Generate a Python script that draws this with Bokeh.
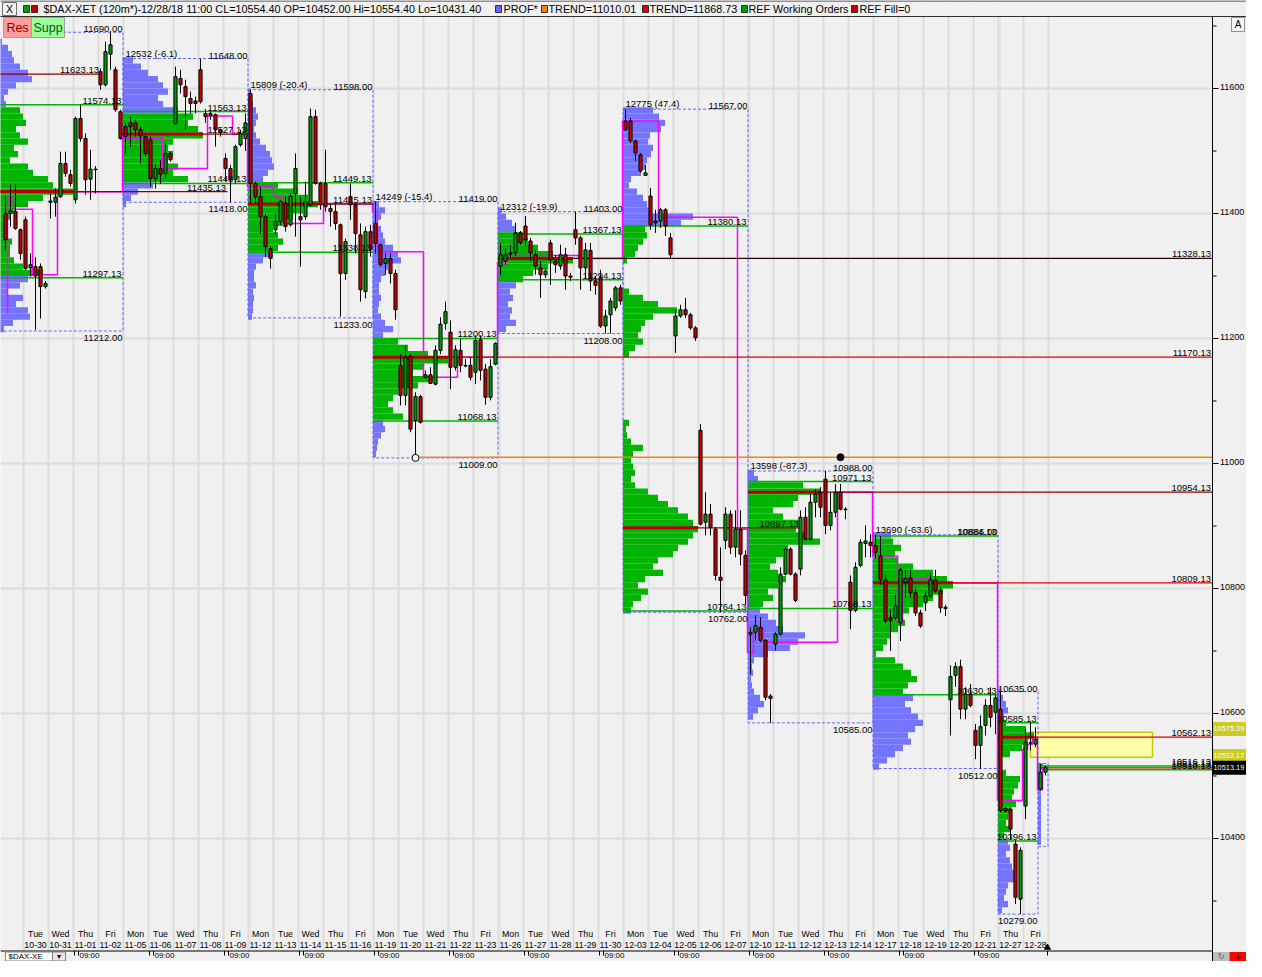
from bokeh.plotting import figure
from bokeh.models import Range1d, FixedTicker, Grid, ColumnDataSource
from bokeh.core.properties import value
from bokeh.embed import file_html
from bokeh.resources import INLINE

FONT = "Liberation Sans"

# ------------------------------------------------------------------ calendar
day_weekday = (["Tue", "Wed", "Thu", "Fri"] +
               ["Mon", "Tue", "Wed", "Thu", "Fri"] * 7 + ["Thu", "Fri"])
day_date = ["10-30", "10-31", "11-01", "11-02",
            "11-05", "11-06", "11-07", "11-08", "11-09",
            "11-12", "11-13", "11-14", "11-15", "11-16",
            "11-19", "11-20", "11-21", "11-22", "11-23",
            "11-26", "11-27", "11-28", "11-29", "11-30",
            "12-03", "12-04", "12-05", "12-06", "12-07",
            "12-10", "12-11", "12-12", "12-13", "12-14",
            "12-17", "12-18", "12-19", "12-20", "12-21",
            "12-27", "12-28"]
day_num = list(range(1, 42))          # trading day number (0 = Mon 10-29)
BARS_PER_DAY = 5
time_label_bars = [15 * k for k in range(1, 14)]   # 09:00 bars of every 3rd day
time_label_text = ["09:00"] * len(time_label_bars)

# ------------------------------------------------------------------ candles (120m)
bar_idx = list(range(1, 210))
opens = [
 11400,11400,11403,11374,11390,11313,11315,11315,11283,11418,11418,11427,11480,11462,11422,11552,11520,11455,11470,11627,11606,11655,11630,11563,
 11539,11545,11545,11534,11523,11518,11456,11472,11464,11496,11544,11616,11603,11584,11580,11630,11560,11560,11558,11534,11488,11472,11454,11510,11520,
 11592,11448,11427,11395,11344,11374,11387,11416,11382,11432,11395,11395,11414,11555,11448,11448,11408,11403,11382,11304,11427,11414,11366,11275,11371,
 11384,11350,11320,11328,11304,11157,11109,11171,11069,11107,11138,11142,11127,11181,11224,11210,11154,11181,11157,11157,11146,11198,11151,11106,11159,
 11316,11324,11335,11337,11369,11380,11356,11334,11313,11302,11353,11324,11316,11334,11300,11374,11361,11313,11341,11292,11297,11220,11238,11249,11281,
 11548,11548,11516,11494,11461,11428,11385,11388,11406,11361,11204,11236,11246,11238,11217,11053,10906,10919,10895,10818,10877,10919,10866,10895,10853,
 10727,10730,10738,10717,10628,10711,10727,10823,10863,10823,10831,10914,10879,10938,10954,10975,10901,10922,10954,10927,10810,10765,10837,10872,10874,
 10869,10852,10814,10753,10753,10745,10810,10817,10793,10761,10777,10788,10814,10796,10770,10622,10661,10675,10607,10631,10573,10549,10581,10613,10602,
 10607,10448,10447,10391,10303,10452,10553,10551,10479,10506]
highs = [
 11427,11446,11446,11376,11395,11336,11330,11320,11292,11432,11440,11499,11499,11470,11555,11574,11528,11502,11476,11632,11675,11690,11635,11566,
 11544,11555,11550,11539,11528,11523,11480,11486,11512,11499,11635,11630,11614,11595,11587,11648,11567,11563,11560,11536,11496,11478,11510,11534,11560,
 11598,11451,11443,11400,11347,11400,11422,11427,11432,11496,11427,11451,11568,11566,11451,11502,11416,11416,11384,11360,11448,11416,11384,11379,11382,
 11419,11352,11336,11336,11310,11175,11189,11175,11114,11110,11149,11154,11189,11234,11259,11229,11189,11199,11167,11170,11205,11205,11159,11167,11194,
 11353,11345,11350,11385,11372,11396,11361,11342,11324,11313,11358,11334,11350,11345,11305,11403,11364,11353,11353,11300,11310,11246,11265,11284,11286,
 11567,11553,11518,11497,11478,11441,11406,11409,11409,11369,11246,11254,11265,11241,11220,11063,10954,10935,10898,10866,10930,10925,10925,10925,10861,
 10738,10757,10754,10719,10631,10730,10834,10866,10866,10826,10925,10930,10951,10959,10962,10988,10954,10967,10967,10930,10821,10842,10879,10901,10887,
 10886,10884,10822,10766,10790,10833,10830,10830,10801,10766,10796,10825,10830,10801,10774,10677,10682,10686,10642,10647,10583,10597,10623,10642,10630,
 10635,10450,10450,10397,10386,10575,10586,10578,10519,10517]
lows = [
 11342,11379,11374,11326,11310,11299,11214,11232,11280,11392,11395,11425,11459,11443,11416,11515,11430,11422,11432,11598,11603,11630,11563,11518,
 11496,11507,11523,11480,11491,11443,11440,11448,11456,11483,11542,11592,11534,11560,11560,11576,11545,11550,11507,11523,11451,11418,11448,11507,11500,
 11416,11416,11368,11331,11312,11366,11382,11371,11379,11363,11315,11390,11411,11446,11406,11403,11379,11374,11235,11294,11390,11336,11259,11264,11331,
 11336,11315,11302,11288,11230,11093,11093,11050,11009,11064,11135,11127,11125,11175,11214,11119,11149,11146,11154,11133,11127,11133,11094,11101,11157,
 11302,11318,11329,11332,11350,11348,11324,11302,11265,11297,11286,11305,11310,11278,11292,11350,11278,11297,11276,11270,11217,11208,11208,11244,11254,
 11532,11513,11484,11465,11460,11374,11369,11377,11364,11329,11177,11233,11233,11214,11196,10901,10885,10885,10813,10762,10863,10855,10850,10837,10775,
 10663,10717,10714,10621,10585,10701,10725,10821,10821,10778,10821,10877,10877,10914,10914,10887,10893,10914,10925,10911,10735,10762,10834,10850,10850,
 10848,10806,10745,10700,10750,10716,10785,10785,10756,10737,10764,10785,10793,10761,10756,10565,10643,10591,10591,10610,10527,10512,10565,10578,10567,
 10442,10442,10399,10295,10279,10431,10541,10546,10477,10501]
closes = [
 11358,11404,11376,11336,11312,11318,11300,11283,11288,11420,11426,11480,11464,11448,11552,11520,11454,11471,11471,11606,11659,11670,11566,11520,
 11523,11539,11534,11524,11496,11456,11472,11463,11496,11486,11619,11606,11587,11576,11576,11579,11555,11557,11534,11529,11472,11454,11507,11528,11545,
 11448,11427,11395,11347,11328,11387,11419,11379,11427,11472,11390,11419,11555,11448,11414,11411,11403,11384,11304,11355,11414,11368,11278,11371,11342,
 11352,11318,11328,11304,11246,11109,11170,11055,11107,11066,11142,11128,11181,11223,11243,11154,11182,11157,11156,11138,11197,11149,11106,11155,11192,
 11334,11334,11337,11369,11353,11358,11337,11316,11302,11308,11326,11318,11334,11300,11298,11361,11313,11342,11292,11285,11220,11236,11260,11281,11260,
 11534,11516,11497,11468,11465,11382,11388,11406,11380,11334,11236,11246,11238,11217,11201,10903,10919,10898,10821,10813,10919,10866,10895,10855,10789,
 10730,10741,10717,10626,10624,10727,10823,10863,10823,10781,10914,10879,10938,10951,10930,10901,10922,10954,10927,10926,10765,10834,10874,10876,10869,
 10858,10814,10748,10749,10772,10830,10816,10793,10761,10740,10788,10814,10796,10769,10768,10659,10675,10607,10631,10613,10549,10579,10613,10594,10625,
 10445,10444,10415,10306,10381,10554,10553,10559,10506,10514]

# ------------------------------------------------------------------ volume profiles (10-pt rows)
PROFILE_ROW = 10
vol_w0 = [2,4,10,14,16,22,30,34,18,10,6,8,22,25,28,18,22,30,16,20,12,30,35,50,55,75,45,30,18,12,
          8,6,10,14,12,12,16,25,45,30,22,10,25,18,30,32,15,6]
vol_w1 = [10,18,25,35,40,45,35,40,55,70,65,75,80,50,45,50,45,55,50,65,30,15,8,3]
vol_w2 = [3,3,5,8,10,8,6,8,12,18,22,24,26,20,15,30,50,60,70,55,45,35,25,30,35,30,25,15,8,6,6,8,5,6,5,5,4]
vol_w3 = [6,12,8,5,8,10,12,20,25,28,15,12,8,6,6,8,6,5,8,12,20,10,25,35,55,75,50,40,60,45,25,20,15,20,30,
          10,12,8,5,4,3]
vol_w4 = [4,8,14,18,25,30,40,55,75,50,35,25,18,12,15,10,14,12,18,8]
vol_w5 = [30,36,42,38,27,25,30,28,24,22, 18,8,6,14,20,24,27,70,58,22, 24,20,15,12,4,0,0,0,0,6,
          20,35,54,30,22,18,15,20,12,6, 0,0,0,0,0,0,0,0,0,0, 6,3,4,8,20,10,8,10,12,8,
          12,25,35,45,55,65,70,75,70,65, 55,50,35,30,40,22,15,25,18,10, 8]
vol_w6 = [6,10,55,72,50,45,25,35,50,48,56,72,40,35,28,22,30,38,30,20,25,15,12,20,28,35,57,50,42,20,
          6,4,5,3,4,6,12,16,10,5]
vol_w7 = [18,20,28,22,24,40,60,74,80,70,60,50,36,30,32,25,18,14,10,3,22,30,38,44,35,30,40,32,38,45,
          50,42,35,38,30,22,14,6]
vol_d27 = [3,5,8,10,6,8,28,36,30,24,12,4,4,8,22,20,16,14,18,12,10,8,12,6,10,12,8,12,14,16,18,10,8,6,10,4]
vol_d28 = [5,3,3,3,3,3,3,3,3,3,3,3,3]
prof_vols = [vol_w0, vol_w1, vol_w2, vol_w3, vol_w4, vol_w5, vol_w6, vol_w7, vol_d27, vol_d28]
prof_start = [-0.5, 24.5, 49.5, 74.5, 99.5, 124.5, 149.5, 174.5, 199.5, 207.5]
prof_top = [11690, 11650, 11600, 11420, 11410, 11570, 10990, 10890, 10640, 10520]
prof_vah = [11574.13, 11563.13, 11449.13, 11200.13, 11367.13, 11380.13, 10971.13, 10884.13, 10585.13, 10520]
prof_val = [11297.13, 11448.13, 11338.13, 11068.13, 11294.13, 10764.13, 10768.13, 10630.13, 10396.13, 10500]
prof_poc = [11435.13, 11527.13, 11415.13, 11170.13, 11328.13, 10897.13, 10954.13, 10809.13, 10562.13, None]
VOL_PER_BAR = 5.0

# ------------------------------------------------------------------ profile boxes
box_left = [-0.5, 24.5, 49.5, 74.5, 99.5, 124.5, 149.5, 174.5, 199.5, 207.5]
box_right = [24.5, 49.5, 74.5, 99.5, 124.5, 149.5, 174.5, 199.5, 207.5, 209.5]
box_high = [11690, 11648, 11598, 11419, 11403, 11567, 10988, 10886, 10635, 10520]
box_low = [11212, 11418, 11233, 11009, 11208, 10762, 10585, 10512, 10279, 10387]
box_vol = ["", "12532 (-6.1)", "15809 (-20.4)", "14249 (-15.4)", "12312 (-19.9)",
           "12775 (47.4)", "13598 (-87.3)", "13690 (-63.6)", "", ""]
box_show_hl = [True] * 9 + [False]

# ------------------------------------------------------------------ value-area lines
va_price = [11574.13, 11297.13, 11563.13, 11448.13, 11449.13, 11338.13, 11200.13, 11068.13,
            11367.13, 11294.13, 11380.13, 10764.13, 10971.13, 10768.13, 10884.13, 10630.13,
            10585.13, 10396.13, 10516.13, 10510.13]
va_x0 = [-0.5, -0.5, 24.5, 24.5, 49.5, 49.5, 74.5, 74.5, 99.5, 99.5, 124.5, 124.5, 149.5, 149.5,
         174.5, 174.5, 199.5, 199.5, 208.5, 208.5]
va_x1 = [24.5, 24.5, 49.5, 49.5, 74.5, 74.5, 99.5, 99.5, 124.5, 124.5, 149.5, 149.5, 174.5, 174.5,
         199.5, 199.5, 207.5, 207.5, 242.4, 242.4]

# ------------------------------------------------------------------ naked POC levels
lvl_price = [11623.13, 11435.13, 11527.13, 11415.13, 11170.13, 11328.13, 10897.13, 10954.13,
             10809.13, 10562.13, 10513.13]
lvl_x0 = [-0.5, -0.5, 24.5, 49.5, 74.5, 99.5, 124.5, 149.5, 174.5, 199.5, 208.5]
lvl_x1 = [20.0, 45.4, 49.5, 74.6, 242.4, 242.4, 160.0, 242.4, 242.4, 242.4, 242.4]
lvl_color = ["#8c0000", "#8c0000", "#8c0000", "#8c0000", "#e00000", "#300000", "#8c0000",
             "#900000", "#e00000", "#e00000", "#e00000"]

# ------------------------------------------------------------------ developing POC path
dev_x = [1.4, 1.4, 2.6, 2.6, 6.4, 6.4, 11.4, 11.4, 24.4,
         24.4, 32.4, 32.4, 41.4, 41.4, 46.4, 46.4, 49.4,
         49.4, 54.6, 54.6, 56.6, 56.6, 64.6, 64.6, 74.4,
         74.4, 75.4, 75.4, 84.6, 84.6, 91.4, 91.4, 99.4,
         99.4, 101.4, 101.4, 115.6, 115.6, 124.4,
         124.4, 131.6, 131.6, 147.4, 147.4, 149.4,
         149.4, 150.6, 150.6, 152.6, 152.6, 167.4, 167.4, 174.4,
         174.4, 179.4, 179.4, 180.4, 180.4, 185.6, 185.6, 199.4,
         199.4, 204.4, 204.4, 205.4, 205.4, 206.4, 206.4, 207.4, 207.4, 208.4, 208.4]
dev_y = [11240, 11424, 11424, 11407, 11407, 11302, 11302, 11435, 11435,
         11520, 11520, 11472, 11472, 11556, 11556, 11527, 11527,
         11443, 11443, 11428, 11428, 11384, 11384, 11416, 11416,
         11403, 11403, 11339, 11339, 11138, 11138, 11170, 11170,
         11322, 11322, 11333, 11333, 11328, 11328,
         11548, 11548, 11394, 11394, 10895, 10895,
         10698, 10698, 10735, 10735, 10714, 10714, 10954, 10954,
         10852, 10852, 10745, 10745, 10817, 10817, 10809, 10809,
         10461, 10461, 10543, 10543, 10551, 10551, 10562, 10562, 10478, 10478, 10515]

# ------------------------------------------------------------------ trend / orders / price tags
trend_price = 11010.01
trend_x0 = 83.0
trend_dot_x = 168.0
zone_x0, zone_x1, zone_top, zone_bot = 206.0, 230.4, 10570.0, 10530.0
tag_price = [10575.39, 10532.17, 10513.19]
tag_bg = ["#cccc1e", "#cccc1e", "#000000"]
price_ticks = [10400, 10600, 10800, 11000, 11200, 11400, 11600]
price_minor = [10300, 10500, 10700, 10900, 11100, 11300, 11500, 11700]

# ------------------------------------------------------------------ colours
BLUE = "#7474ff"
GREEN = "#00b400"
UP = "#009a00"
DOWN = "#c80000"
BG = "#f0f0f0"

# helpers for window chrome only (canvas pixels -> data units)
def px_x(px):
    return px / 5.0

def px_y(py):
    return 11600.0 - (py - 88) / 0.625

AXIS_X = 242.4                 # price axis position (bar units)
AXIS_Y = px_y(950.5)           # time axis position

p = figure(width=1246, height=961, output_backend="svg", toolbar_location=None,
           x_range=Range1d(0, px_x(1246)), y_range=Range1d(px_y(961), px_y(0)),
           x_axis_location=None, y_axis_location=None, min_border=0,
           min_border_left=0, min_border_right=0, min_border_top=0, min_border_bottom=0,
           background_fill_color=BG, border_fill_color=BG, outline_line_color=None)

# grids
day_bounds = [BARS_PER_DAY * d + 4.5 for d in range(0, 42)]
p.add_layout(Grid(dimension=0, ticker=FixedTicker(ticks=day_bounds),
                  grid_line_color="#dcdcdc", grid_line_width=2))
p.add_layout(Grid(dimension=1, ticker=FixedTicker(ticks=price_ticks),
                  grid_line_color="#dcdcdc", grid_line_width=2))
# plain panels outside the price area (price-scale strip and time-scale strip)
p.quad(left=[AXIS_X], right=[px_x(1246)], top=[px_y(0)], bottom=[px_y(961)],
       fill_color=BG, line_color=None)
p.quad(left=[0], right=[px_x(1246)], top=[AXIS_Y], bottom=[px_y(961)],
       fill_color=BG, line_color=None)

# order zone
p.quad(left=[zone_x0], right=[zone_x1], top=[zone_top], bottom=[zone_bot],
       fill_color="#ffffa8", line_color="#c8c800", line_width=1.5)

# volume profiles
pl, pr, pt, pb, pc = [], [], [], [], []
for start, top, vah, val, vols in zip(prof_start, prof_top, prof_vah, prof_val, prof_vols):
    for k, v in enumerate(vols):
        if v <= 0:
            continue
        t = top - k * PROFILE_ROW
        b = t - PROFILE_ROW
        mid = 0.5 * (t + b)
        pl.append(start)
        pr.append(start + v / VOL_PER_BAR)
        pt.append(t)
        pb.append(b)
        pc.append(GREEN if val <= mid <= vah else BLUE)
p.quad(left=pl, right=pr, top=pt, bottom=pb, fill_color=pc, line_color=None)

# profile boxes
p.quad(left=box_left, right=box_right, top=box_high, bottom=box_low, fill_color=None,
       line_color="#6464ff", line_dash="3 2", line_width=1)

# developing POC path
p.line(dev_x, dev_y, line_color="#ff00ff", line_width=1.5)

# value-area lines
p.segment(x0=va_x0, y0=va_price, x1=va_x1, y1=va_price, line_color=GREEN, line_width=1.5)

# naked POC levels
p.segment(x0=lvl_x0, y0=lvl_price, x1=lvl_x1, y1=lvl_price, line_color=lvl_color, line_width=1.2)
tk_x0, tk_x1, tk_y = [], [], []
for start, poc, vols in zip(prof_start, prof_poc, prof_vols):
    if poc is None:
        continue
    tk_x0.append(start)
    tk_x1.append(start + max(vols) / VOL_PER_BAR)
    tk_y.append(poc)
p.segment(x0=tk_x0, y0=tk_y, x1=tk_x1, y1=tk_y, line_color="#b40000", line_width=3)

# trend line
p.segment(x0=[trend_x0], y0=[trend_price], x1=[AXIS_X], y1=[trend_price],
          line_color="#ff8000", line_width=1.5)

# candles
c_top = [max(o, c) for o, c in zip(opens, closes)]
c_bot = [min(o, c) for o, c in zip(opens, closes)]
c_col = [UP if c >= o else DOWN for o, c in zip(opens, closes)]
src = ColumnDataSource(dict(x=bar_idx, h=highs, l=lows, t=c_top, b=c_bot, col=c_col))
p.segment(x0="x", y0="l", x1="x", y1="h", source=src, line_color="black", line_width=1)
p.vbar(x="x", width=0.62, top="t", bottom="b", fill_color="col", line_color="black",
       line_width=1, source=src)

# trend markers
p.scatter([trend_x0], [lows[bar_idx.index(83)]], size=7, marker="circle",
          fill_color="white", line_color="black")
p.scatter([trend_dot_x], [trend_price], size=7, marker="circle",
          fill_color="black", line_color="black")

TXT = dict(text_font=value(FONT), text_font_size=value("9.5px"), text_color="black")

# level labels
p.text(x=[x - 0.3 for x in va_x1], y=va_price, text=["%.2f" % v for v in va_price],
       text_align="right", text_baseline="bottom", y_offset=-1, **TXT)
p.text(x=[x - 0.3 for x in lvl_x1], y=lvl_price, text=["%.2f" % v for v in lvl_price],
       text_align="right", text_baseline="bottom", y_offset=-1, **TXT)

# box labels
hx = [r - 0.1 for r, s in zip(box_right, box_show_hl) if s]
p.text(x=hx, y=[h for h, s in zip(box_high, box_show_hl) if s],
       text=["%.2f" % h for h, s in zip(box_high, box_show_hl) if s],
       text_align="right", text_baseline="bottom", y_offset=0, **TXT)
p.text(x=hx, y=[l for l, s in zip(box_low, box_show_hl) if s],
       text=["%.2f" % l for l, s in zip(box_low, box_show_hl) if s],
       text_align="right", text_baseline="top", y_offset=4, **TXT)
p.text(x=[l + 0.5 for l in box_left], y=box_high, text=box_vol,
       text_align="left", text_baseline="bottom", y_offset=0, **TXT)

# day labels along the bottom of the chart
DAYTXT = dict(text_font=value(FONT), text_font_size=value("8.8px"), text_color="black")
day_x = [BARS_PER_DAY * d + 2 for d in day_num]
p.text(x=day_x, y=[px_y(933)] * len(day_x), text=day_weekday, text_align="center",
       text_baseline="middle", **DAYTXT)
p.text(x=day_x, y=[px_y(944)] * len(day_x), text=day_date, text_align="center",
       text_baseline="middle", **DAYTXT)

# ---------------------------------------------------------------- price scale (right)
p.segment(x0=[AXIS_X], y0=[px_y(16)], x1=[AXIS_X], y1=[px_y(961)], line_color="black",
          line_width=1)
p.segment(x0=[AXIS_X] * len(price_ticks), y0=price_ticks,
          x1=[AXIS_X + px_x(6)] * len(price_ticks), y1=price_ticks, line_color="black")
p.segment(x0=[AXIS_X] * len(price_minor), y0=price_minor,
          x1=[AXIS_X + px_x(4)] * len(price_minor), y1=price_minor, line_color="black")
p.text(x=[AXIS_X + px_x(7.5)] * len(price_ticks), y=price_ticks,
       text=["%d" % t for t in price_ticks], text_align="left", text_baseline="middle",
       y_offset=-2, text_font=value(FONT), text_font_size=value("9px"), text_color="black")
# last-price tags
p.quad(left=[AXIS_X + 0.1] * 3, right=[px_x(1246)] * 3,
       top=[t + 7 / 0.625 for t in tag_price], bottom=[t - 7 / 0.625 for t in tag_price],
       fill_color=tag_bg, line_color=None)
p.text(x=[AXIS_X + 0.2] * 3, y=tag_price, text=["%.2f" % t for t in tag_price],
       text_align="left", text_baseline="middle", text_font=value(FONT),
       text_font_size=value("7.4px"), text_color="white")

# ---------------------------------------------------------------- time scale (bottom)
minor_t = []
for b in time_label_bars:
    minor_t += [b - 0.2, b + 0.6]
minor_t.append(209.4)
p.segment(x0=[0], y0=[AXIS_Y], x1=[AXIS_X], y1=[AXIS_Y], line_color="black", line_width=1)
p.segment(x0=minor_t, y0=[AXIS_Y] * len(minor_t), x1=minor_t,
          y1=[px_y(955)] * len(minor_t), line_color="black")
p.text(x=time_label_bars, y=[px_y(955.3)] * len(time_label_bars), text=time_label_text,
       x_offset=14, text_align="center", text_baseline="middle", text_font=value(FONT),
       text_font_size=value("8px"), text_color="black")
p.scatter([209.4], [px_y(947)], size=6, marker="triangle", fill_color="black",
          line_color="black")

# ---------------------------------------------------------------- window chrome
# title bar
p.quad(left=[px_x(-2)], right=[px_x(1250)], top=[px_y(0.5)], bottom=[px_y(16)],
       fill_color=BG, line_color="#303030", line_width=1)
p.quad(left=[px_x(2)], right=[px_x(16)], top=[px_y(2)], bottom=[px_y(15)],
       fill_color=BG, line_color="#707070")
p.text(x=[px_x(9)], y=[px_y(8.5)], text=["X"], text_align="center", text_baseline="middle",
       text_font=value(FONT), text_font_size=value("10.5px"), text_color="black")
sq_x = [23, 31, 495, 541, 642, 741, 851]
sq_c = ["#00a000", "#c00000", "#6464ff", "#ff8000", "#e00000", "#00a000", "#c00000"]
p.quad(left=[px_x(x) for x in sq_x], right=[px_x(x + 6) for x in sq_x],
       top=[px_y(5)] * len(sq_x), bottom=[px_y(12)] * len(sq_x),
       fill_color=sq_c, line_color="#303030")
title_x = [43, 503, 548, 649, 748, 859]
title_t = ["$DAX-XET (120m*)-12/28/18 11:00 CL=10554.40 OP=10452.00 Hi=10554.40 Lo=10431.40",
           "PROF*", "TREND=11010.01", "TREND=11868.73", "REF Working Orders", "REF Fill=0"]
p.text(x=[px_x(x) for x in title_x], y=[px_y(8.5)] * len(title_x), text=title_t,
       text_align="left", text_baseline="middle", text_font=value(FONT),
       text_font_size=value("10.8px"), text_color="black")

# Res / Supp buttons
p.quad(left=[px_x(3), px_x(31)], right=[px_x(31), px_x(64)], top=[px_y(17)] * 2,
       bottom=[px_y(37)] * 2, fill_color=["#ff9c9c", "#9cff9c"], line_color="#a0a0a0")
p.text(x=[px_x(17), px_x(47.5)], y=[px_y(27)] * 2, text=["Res", "Supp"],
       text_align="center", text_baseline="middle", text_font=value(FONT),
       text_font_size=value("12.5px"), text_color=["#900000", "#006000"])

# "A" button on the price scale
p.quad(left=[px_x(1231)], right=[px_x(1244)], top=[px_y(17)], bottom=[px_y(31)],
       fill_color="#f8f8f8", line_color="#909090")
p.text(x=[px_x(1237.5)], y=[px_y(24)], text=["A"], text_align="center", text_baseline="middle",
       text_font=value(FONT), text_font_size=value("10px"), text_color="black")

# symbol box bottom-left
p.quad(left=[px_x(5)], right=[px_x(52)], top=[px_y(951.5)], bottom=[px_y(960.5)],
       fill_color="white", line_color="#808080")
p.quad(left=[px_x(52)], right=[px_x(65)], top=[px_y(951.5)], bottom=[px_y(960.5)],
       fill_color="#e6e6e6", line_color="#808080")
p.text(x=[px_x(8)], y=[px_y(956)], text=["$DAX-XE"], text_align="left",
       text_baseline="middle", text_font=value(FONT), text_font_size=value("8px"),
       text_color="black")
p.text(x=[px_x(58.5)], y=[px_y(956)], text=["\u25be"], text_align="center",
       text_baseline="middle", text_font=value("DejaVu Sans"), text_font_size=value("8px"),
       text_color="black")

# buttons bottom-right
p.quad(left=[AXIS_X + 0.1, px_x(1229)], right=[px_x(1229), px_x(1246)],
       top=[px_y(951.5)] * 2, bottom=[px_y(961)] * 2,
       fill_color=["#bdbdbd", "#ff0000"], line_color=None)
p.text(x=[px_x(1220.5), px_x(1237.5)], y=[px_y(956)] * 2, text=["\u21bb", "+"],
       text_align="center", text_baseline="middle", text_font=value("DejaVu Sans"),
       text_font_size=value("8px"), text_color=["#606060", "black"])

open("out.html", "w").write(file_html(p, INLINE, title="DAX profile chart"))
